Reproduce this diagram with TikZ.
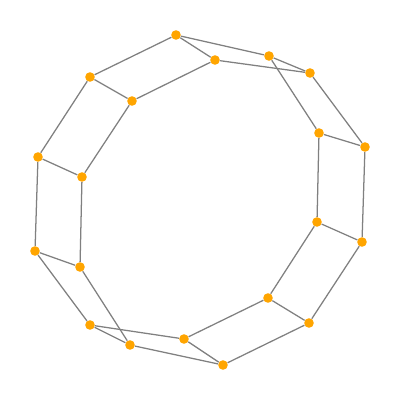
\documentclass[tikz,border=0pt]{standalone}
\usepackage{tikz}
\definecolor{dotorange}{HTML}{FFA500}
\definecolor{edgegray}{HTML}{808080}
\tikzset{
  vertex/.style={circle, fill=dotorange, inner sep=0pt, minimum size=2.4mm},
  edge/.style={draw=edgegray, line width=0.9pt},
}

\begin{document}
\begin{tikzpicture}[x=0.25mm, y=-0.25mm]
  \useasboundingbox (0,0) rectangle (400,400);
  % vertices
  \foreach \n/\x/\y in {a/176/35, b/215/60, c/269/56, d/310/73, e/90/77,
                        f/132/101, g/319/133, h/365/147, i/38/157, j/82/177,
                        k/317/222, l/362/242, m/35/251, n/80/267, o/268/298,
                        p/309/323, q/90/325, r/184/339, s/130/345, t/223/365} {%
    \node[vertex] (\n) at (\x,\y) {};
  }
  % edges
  \foreach \u/\v in {a/b, a/c, b/d, c/d, a/e, b/f, c/g, d/h,
                     g/h, g/k, h/l, k/l, k/o, l/p, o/p, o/r, p/t, r/t,
                     q/r, q/s, s/t, n/s, m/q,
                     e/i, e/f, f/j, i/j, i/m, j/n, m/n} {%
    \draw[edge] (\u) -- (\v);
  }
\end{tikzpicture}
\end{document}
